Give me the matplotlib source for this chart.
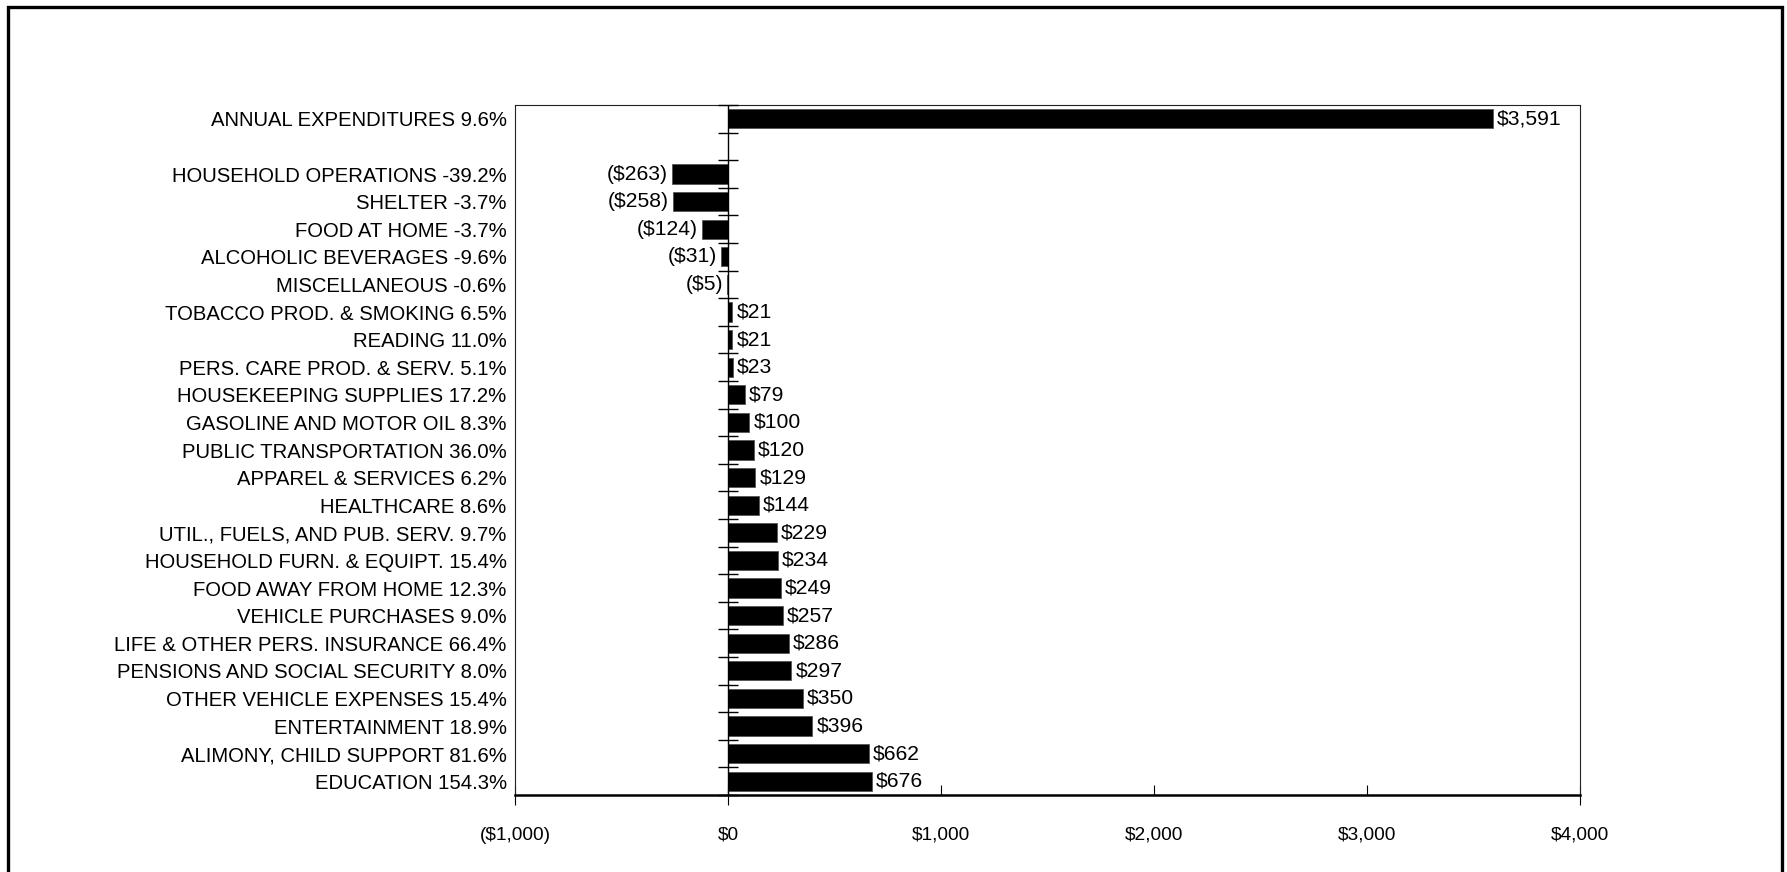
import matplotlib
matplotlib.use("Agg")
import matplotlib.pyplot as plt
from matplotlib.lines import Line2D
from matplotlib.ticker import FuncFormatter, FixedLocator

# Change in average annual expenditures by category
categories = [
    "ANNUAL EXPENDITURES", None,
    "HOUSEHOLD OPERATIONS", "SHELTER", "FOOD AT HOME", "ALCOHOLIC BEVERAGES",
    "MISCELLANEOUS", "TOBACCO PROD. & SMOKING", "READING",
    "PERS. CARE PROD. & SERV.", "HOUSEKEEPING SUPPLIES",
    "GASOLINE AND MOTOR OIL", "PUBLIC TRANSPORTATION", "APPAREL & SERVICES",
    "HEALTHCARE", "UTIL., FUELS, AND PUB. SERV.", "HOUSEHOLD FURN. & EQUIPT.",
    "FOOD AWAY FROM HOME", "VEHICLE PURCHASES", "LIFE & OTHER PERS. INSURANCE",
    "PENSIONS AND SOCIAL SECURITY", "OTHER VEHICLE EXPENSES", "ENTERTAINMENT",
    "ALIMONY, CHILD SUPPORT", "EDUCATION",
]
pct_change = [
    "9.6%", None,
    "-39.2%", "-3.7%", "-3.7%", "-9.6%", "-0.6%", "6.5%", "11.0%", "5.1%",
    "17.2%", "8.3%", "36.0%", "6.2%", "8.6%", "9.7%", "15.4%", "12.3%",
    "9.0%", "66.4%", "8.0%", "15.4%", "18.9%", "81.6%", "154.3%",
]
dollar_change = [
    3591, None,
    -263, -258, -124, -31, -5, 21, 21, 23, 79, 100, 120, 129, 144, 229,
    234, 249, 257, 286, 297, 350, 396, 662, 676,
]
x_ticks = [-1000, 0, 1000, 2000, 3000, 4000]

W, H, DPI = 1787, 872, 100
fig = plt.figure(figsize=(W / DPI, H / DPI), dpi=DPI)
fig.patch.set_facecolor("white")

# outer frame (open at the bottom)
def px(x, y):
    return x / W, 1 - y / H
xs, ys = zip(*[px(8, 900), px(8, 7), px(1782, 7), px(1782, 900)])
fig.add_artist(Line2D(xs, ys, transform=fig.transFigure, color="black",
                      lw=2.4, solid_joinstyle="miter", clip_on=False))

ax = fig.add_axes([515 / W, 1 - 795 / H, (1580 - 515) / W, (795 - 105) / H])

n = len(categories)
positions = list(range(n))
bar_pos = [p for p, v in zip(positions, dollar_change) if v is not None]
bar_val = [v for v in dollar_change if v is not None]
ax.barh(bar_pos, bar_val, height=0.7, color="black", edgecolor="#555555",
        linewidth=0.6, zorder=3)

def money(v):
    return f"${v:,.0f}" if v >= 0 else f"(${-v:,.0f})"

for p, v in zip(bar_pos, bar_val):
    off, ha = (3, "left") if v >= 0 else (-3, "right")
    ax.annotate(money(v), (v, p), xytext=(off, 0), textcoords="offset points",
                ha=ha, va="center", fontsize=15.2, family="Liberation Sans",
                zorder=4)

ax.set_xlim(x_ticks[0], x_ticks[-1])
ax.set_ylim(n - 0.5, -0.5)

# category axis at zero with cross ticks on the category boundaries
ax.axvline(0, color="black", lw=1.0, zorder=4)
bounds = [i - 0.5 for i in range(n + 1)]
ax.plot([0] * len(bounds), bounds, linestyle="none", marker="_",
        markersize=14, markeredgewidth=1.0, color="black", zorder=4,
        clip_on=False)

labels = [f"{c} {p}" if c else "" for c, p in zip(categories, pct_change)]
ax.set_yticks(positions)
ax.set_yticklabels(labels, family="Liberation Sans", fontsize=14.6)
ax.tick_params(axis="y", length=0, pad=6)

ax.xaxis.set_major_locator(FixedLocator(x_ticks))
ax.xaxis.set_major_formatter(FuncFormatter(lambda v, _: money(v)))
ax.xaxis.set_minor_locator(FixedLocator([-1000, 0, 4000]))
ax.xaxis.remove_overlapping_locs = False
ax.tick_params(axis="x", which="major", direction="in", length=7, width=0.8,
               pad=23, labelsize=13.8)
ax.tick_params(axis="x", which="minor", direction="out", length=7, width=0.8)
for t in ax.get_xticklabels():
    t.set_family("Liberation Sans")

for side in ("top", "right", "left"):
    ax.spines[side].set_linewidth(0.8)
    ax.spines[side].set_color("#222222")
ax.spines["bottom"].set_linewidth(1.8)
ax.spines["bottom"].set_color("black")

fig.savefig("out.png", dpi=DPI, facecolor="white")
